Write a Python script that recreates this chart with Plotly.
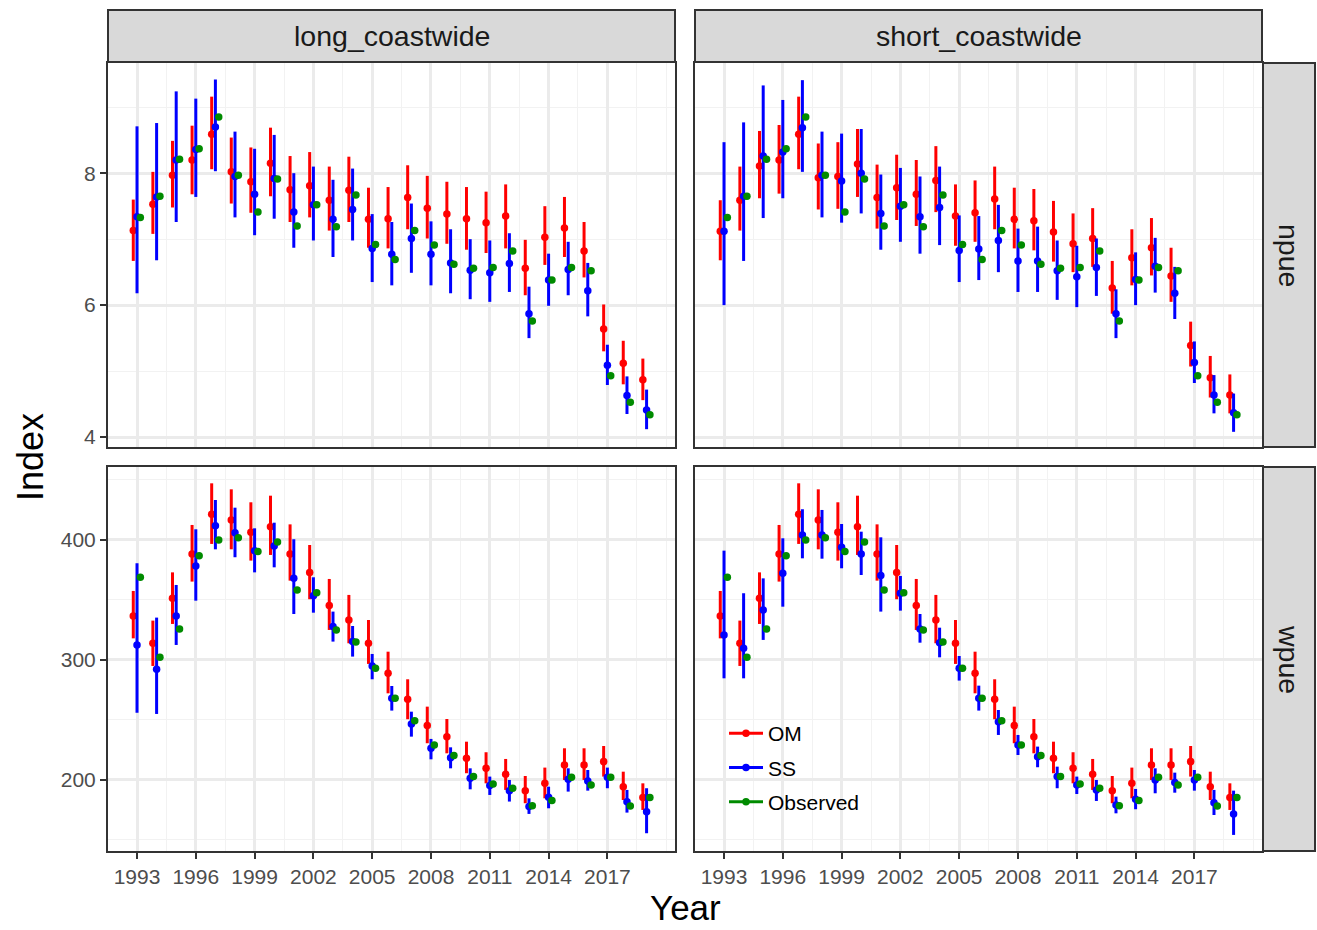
import plotly.graph_objects as go

W, H = 1317, 930

years = list(range(1993, 2020))
x_tick_vals = [1993, 1996, 1999, 2002, 2005, 2008, 2011, 2014, 2017]
x_tick_text = ["1993", "1996", "1999", "2002", "2005", "2008", "2011", "2014", "2017"]
x_minor_vals = [1991.5, 1994.5, 1997.5, 2000.5, 2003.5, 2006.5, 2009.5, 2012.5, 2015.5, 2018.5, 2020]
npue_tick_vals = [4, 6, 8]
npue_minor_vals = [5, 7, 9]
wpue_tick_vals = [200, 300, 400]
wpue_minor_vals = [150, 250, 350, 450]

col_labels = ["long_coastwide", "short_coastwide"]
row_labels = ["npue", "wpue"]
series_names = ["OM", "SS", "Observed"]

# ---- npue ----
obs_npue = [7.33, 7.65, 8.21, 8.37, 8.85, 7.97, 7.41, 7.91, 7.20, 7.52, 7.19, 7.67, 6.92, 6.69,
            7.13, 6.91, 6.62, 6.56, 6.57, 6.82, 5.76, 6.38, 6.57, 6.52, 4.93, 4.53, 4.34]

om_long_npue = [7.13, 7.53, 7.97, 8.20, 8.59, 8.02, 7.87, 8.15, 7.75, 7.81, 7.59, 7.74, 7.30, 7.31,
                7.63, 7.47, 7.38, 7.31, 7.25, 7.35, 6.56, 7.03, 7.17, 6.82, 5.64, 5.12, 4.87]
om_long_npue_lo = [6.67, 7.08, 7.48, 7.68, 8.06, 7.54, 7.40, 7.65, 7.26, 7.33, 7.13, 7.26, 6.87, 6.86,
                   7.15, 7.01, 6.93, 6.84, 6.79, 6.86, 6.15, 6.61, 6.73, 6.42, 5.30, 4.80, 4.56]
om_long_npue_hi = [7.60, 8.02, 8.49, 8.72, 9.16, 8.54, 8.39, 8.69, 8.26, 8.32, 8.10, 8.25, 7.78, 7.79,
                   8.12, 7.96, 7.87, 7.79, 7.72, 7.83, 6.99, 7.50, 7.64, 7.26, 6.01, 5.46, 5.19]

ss_long_npue = [7.34, 7.64, 8.20, 8.36, 8.70, 7.95, 7.68, 7.92, 7.41, 7.52, 7.30, 7.45, 6.86, 6.77,
                7.01, 6.77, 6.64, 6.53, 6.49, 6.63, 5.87, 6.38, 6.54, 6.22, 5.09, 4.63, 4.41]
ss_long_npue_lo = [6.18, 6.68, 7.26, 7.64, 8.03, 7.33, 7.06, 7.31, 6.87, 6.98, 6.73, 6.98, 6.35, 6.30,
                   6.49, 6.30, 6.18, 6.09, 6.05, 6.20, 5.50, 5.99, 6.15, 5.83, 4.79, 4.35, 4.12]
ss_long_npue_hi = [8.71, 8.76, 9.24, 9.13, 9.42, 8.63, 8.37, 8.58, 8.00, 8.10, 7.90, 8.07, 7.38, 7.26,
                   7.54, 7.27, 7.15, 7.00, 6.98, 7.09, 6.28, 6.78, 6.96, 6.64, 5.40, 4.92, 4.72]

om_short_npue = [7.12, 7.59, 8.11, 8.20, 8.59, 7.93, 7.95, 8.14, 7.63, 7.78, 7.68, 7.89, 7.35, 7.40,
                 7.61, 7.30, 7.28, 7.11, 6.93, 7.01, 6.26, 6.72, 6.87, 6.44, 5.39, 4.90, 4.64]
om_short_npue_lo = [6.68, 7.13, 7.62, 7.69, 8.06, 7.45, 7.46, 7.64, 7.16, 7.29, 7.20, 7.41, 6.90, 6.96,
                    7.15, 6.86, 6.83, 6.66, 6.50, 6.58, 5.87, 6.30, 6.45, 6.05, 5.07, 4.60, 4.36]
om_short_npue_hi = [7.59, 8.10, 8.64, 8.73, 9.16, 8.45, 8.47, 8.67, 8.13, 8.28, 8.20, 8.41, 7.83, 7.89,
                    8.10, 7.78, 7.76, 7.58, 7.39, 7.47, 6.67, 7.15, 7.32, 6.87, 5.75, 5.23, 4.95]

ss_short_npue = [7.12, 7.65, 8.26, 8.32, 8.69, 7.97, 7.88, 8.00, 7.39, 7.50, 7.34, 7.48, 6.83, 6.85,
                 6.98, 6.67, 6.67, 6.52, 6.43, 6.57, 5.87, 6.39, 6.59, 6.18, 5.13, 4.64, 4.37]
ss_short_npue_lo = [6.00, 6.67, 7.32, 7.62, 8.02, 7.33, 7.25, 7.39, 6.84, 6.96, 6.78, 6.91, 6.35, 6.38,
                    6.50, 6.20, 6.20, 6.08, 5.97, 6.14, 5.50, 6.00, 6.19, 5.79, 4.82, 4.36, 4.08]
ss_short_npue_hi = [8.47, 8.77, 9.33, 9.11, 9.41, 8.63, 8.60, 8.67, 7.98, 8.08, 7.95, 8.10, 7.36, 7.35,
                    7.52, 7.16, 7.19, 6.98, 6.90, 7.01, 6.24, 6.80, 7.02, 6.58, 5.45, 4.94, 4.66]

# ---- wpue ----
obs_wpue = [368.9, 302.2, 325.8, 386.9, 400.0, 401.9, 390.3, 398.3, 358.3, 356.1, 325.0, 315.0, 293.0, 268.0,
            249.4, 229.2, 220.3, 202.8, 196.7, 193.1, 178.6, 182.8, 202.2, 195.8, 202.2, 178.3, 185.3]

om_wpue = [336.7, 313.9, 351.4, 388.3, 421.4, 416.7, 406.4, 411.1, 388.3, 372.8, 345.3, 333.3, 313.9, 288.9,
           267.2, 245.3, 236.1, 218.1, 209.7, 204.7, 191.1, 197.2, 212.5, 212.5, 215.3, 194.4, 185.3]
om_wpue_lo = [318.0, 295.0, 330.0, 365.3, 396.7, 392.2, 382.8, 387.5, 366.1, 350.6, 325.0, 313.9, 296.7, 272.2,
              250.6, 230.6, 222.2, 205.6, 197.2, 191.7, 180.6, 184.7, 200.0, 200.0, 202.8, 183.3, 175.0]
om_wpue_hi = [357.5, 332.8, 373.0, 412.5, 447.2, 442.2, 431.4, 436.9, 413.0, 395.8, 367.5, 354.2, 333.3, 306.9,
              283.9, 261.1, 250.8, 231.9, 223.1, 217.5, 203.3, 210.3, 226.4, 226.4, 228.3, 206.9, 197.2]

ss_long_wpue = [312.5, 292.2, 336.7, 378.3, 411.9, 406.1, 391.1, 395.0, 368.0, 353.6, 327.8, 315.3, 295.0, 268.0,
                246.7, 226.4, 218.6, 201.4, 195.3, 191.1, 177.8, 185.6, 200.6, 199.2, 202.2, 181.9, 173.6]
ss_long_wpue_lo = [256.0, 255.0, 312.5, 349.4, 392.2, 385.6, 373.0, 377.2, 338.3, 339.4, 315.3, 302.8, 283.9, 257.8,
                   236.1, 217.2, 209.7, 192.2, 187.5, 182.0, 171.7, 176.4, 190.3, 191.1, 193.1, 172.8, 155.6]
ss_long_wpue_hi = [380.6, 335.3, 362.5, 408.9, 433.3, 426.9, 409.7, 414.4, 400.6, 368.9, 340.3, 328.3, 305.0, 278.3,
                   256.9, 234.2, 227.2, 209.7, 202.8, 200.0, 184.7, 194.4, 209.7, 208.3, 210.3, 191.7, 193.1]

ss_short_wpue = [320.8, 309.7, 341.7, 372.2, 404.2, 404.2, 393.9, 388.3, 370.3, 355.6, 325.8, 314.4, 293.1, 268.0,
                 248.6, 229.2, 219.4, 202.8, 195.8, 191.7, 179.2, 184.0, 200.0, 197.8, 200.0, 181.1, 171.7]
ss_short_wpue_lo = [284.7, 284.7, 316.7, 344.4, 384.7, 384.4, 376.4, 370.8, 340.3, 341.1, 314.4, 302.2, 282.8, 257.8,
                    237.5, 220.8, 210.6, 193.1, 188.3, 182.5, 172.2, 175.6, 188.9, 189.4, 191.1, 170.8, 154.2]
ss_short_wpue_hi = [391.1, 355.6, 368.0, 401.4, 425.6, 425.0, 413.3, 406.9, 402.2, 370.0, 338.3, 326.9, 303.3, 278.6,
                    258.3, 237.5, 227.8, 211.1, 202.8, 200.0, 186.1, 192.5, 209.7, 206.1, 208.3, 191.7, 191.1]

colors = {"OM": "#FF0000", "SS": "#0000FF", "Observed": "#008B00"}
dodge = {"OM": -0.19, "SS": 0.0, "Observed": 0.17}

panels = {
    (0, 0): {"OM": (om_long_npue, om_long_npue_lo, om_long_npue_hi),
             "SS": (ss_long_npue, ss_long_npue_lo, ss_long_npue_hi),
             "Observed": (obs_npue, None, None)},
    (0, 1): {"OM": (om_short_npue, om_short_npue_lo, om_short_npue_hi),
             "SS": (ss_short_npue, ss_short_npue_lo, ss_short_npue_hi),
             "Observed": (obs_npue, None, None)},
    (1, 0): {"OM": (om_wpue, om_wpue_lo, om_wpue_hi),
             "SS": (ss_long_wpue, ss_long_wpue_lo, ss_long_wpue_hi),
             "Observed": (obs_wpue, None, None)},
    (1, 1): {"OM": (om_wpue, om_wpue_lo, om_wpue_hi),
             "SS": (ss_short_wpue, ss_short_wpue_lo, ss_short_wpue_hi),
             "Observed": (obs_wpue, None, None)},
}

# layout geometry (pixels)
col_px = [(108, 675), (695, 1262)]
row_px = [(63, 447), (467, 851)]
strip_top = (10, 62)
strip_right = (1263, 1315)
legend_box = (708, 713, 893, 833)

def fx(px):
    return px / W

def fy(py):
    return 1 - py / H

FONT = "Arial, Liberation Sans, Helvetica, sans-serif"
fig = go.Figure()

axis_idx = {}
k = 1
for r in range(2):
    for c in range(2):
        axis_idx[(r, c)] = k
        k += 1

for (r, c), series in panels.items():
    i = axis_idx[(r, c)]
    xa = "x" if i == 1 else f"x{i}"
    ya = "y" if i == 1 else f"y{i}"
    for name in series_names:
        vals, lo, hi = series[name]
        xs = [yr + dodge[name] for yr in years]
        err = None
        if lo is not None:
            err = dict(type="data", symmetric=False,
                       array=[h - v for h, v in zip(hi, vals)],
                       arrayminus=[v - l for v, l in zip(vals, lo)],
                       color=colors[name], thickness=3, width=0)
        fig.add_trace(go.Scatter(x=xs, y=vals, mode="markers",
                                 marker=dict(color=colors[name], size=7.5),
                                 error_y=err, xaxis=xa, yaxis=ya,
                                 showlegend=False, name=name))

# legend-only traces
for name in series_names:
    fig.add_trace(go.Scatter(x=[None], y=[None], mode="lines+markers", name=name,
                             legendgroup=name,
                             line=dict(color=colors[name], width=3),
                             marker=dict(color=colors[name], size=7.5),
                             xaxis="x4", yaxis="y4", showlegend=True))

layout = {}
grid_major = "#EBEBEB"
grid_minor = "#F2F2F2"
for (r, c), i in axis_idx.items():
    xk = "xaxis" if i == 1 else f"xaxis{i}"
    yk = "yaxis" if i == 1 else f"yaxis{i}"
    ya = "y" if i == 1 else f"y{i}"
    xa = "x" if i == 1 else f"x{i}"
    x0, x1 = col_px[c]
    y0, y1 = row_px[r]
    layout[xk] = dict(domain=[fx(x0), fx(x1)], anchor=ya, range=[1991.52, 2020.45],
                      tickmode="array", tickvals=x_tick_vals, ticktext=x_tick_text,
                      showticklabels=(r == 1), ticks="outside" if r == 1 else "",
                      ticklen=6, tickwidth=2, tickcolor="#333333",
                      tickfont=dict(size=21, color="#4D4D4D", family=FONT),
                      showgrid=True, gridcolor=grid_major, gridwidth=2.5,
                      minor=dict(tickmode="array", tickvals=x_minor_vals, showgrid=True,
                                 gridcolor=grid_minor, gridwidth=1.4, ticks=""),
                      showline=True, linecolor="#333333", linewidth=2, mirror=True,
                      zeroline=False)
    if r == 0:
        yr = [3.85, 9.67]
        tv, mv = npue_tick_vals, npue_minor_vals
    else:
        yr = [140.8, 460.8]
        tv, mv = wpue_tick_vals, wpue_minor_vals
    layout[yk] = dict(domain=[fy(y1), fy(y0)], anchor=xa, range=yr,
                      tickmode="array", tickvals=tv, ticktext=[str(v) for v in tv],
                      showticklabels=(c == 0), ticks="outside" if c == 0 else "",
                      ticklen=6, tickwidth=2, tickcolor="#333333",
                      tickfont=dict(size=21, color="#4D4D4D", family=FONT),
                      showgrid=True, gridcolor=grid_major, gridwidth=2.5,
                      minor=dict(tickmode="array", tickvals=mv, showgrid=True,
                                 gridcolor=grid_minor, gridwidth=1.4, ticks=""),
                      showline=True, linecolor="#333333", linewidth=2, mirror=True,
                      zeroline=False)

shapes = []
annotations = []
for c in range(2):
    x0, x1 = col_px[c]
    shapes.append(dict(type="rect", xref="paper", yref="paper",
                       x0=fx(x0), x1=fx(x1), y0=fy(strip_top[1]), y1=fy(strip_top[0]),
                       fillcolor="#D9D9D9", line=dict(color="#333333", width=2)))
    annotations.append(dict(text=col_labels[c], xref="paper", yref="paper",
                            x=fx((x0 + x1) / 2), y=fy((strip_top[0] + strip_top[1]) / 2),
                            showarrow=False, font=dict(size=28.5, color="#1A1A1A", family=FONT),
                            xanchor="center", yanchor="middle"))
for r in range(2):
    y0, y1 = row_px[r]
    shapes.append(dict(type="rect", xref="paper", yref="paper",
                       x0=fx(strip_right[0]), x1=fx(strip_right[1]), y0=fy(y1), y1=fy(y0),
                       fillcolor="#D9D9D9", line=dict(color="#333333", width=2)))
    annotations.append(dict(text=row_labels[r], xref="paper", yref="paper",
                            x=fx((strip_right[0] + strip_right[1]) / 2), y=fy((y0 + y1) / 2),
                            showarrow=False, textangle=90,
                            font=dict(size=28.5, color="#1A1A1A", family=FONT),
                            xanchor="center", yanchor="middle"))

# white legend background box (above grid, below data)
shapes.append(dict(type="rect", xref="paper", yref="paper", layer="between",
                   x0=fx(legend_box[0]), x1=fx(legend_box[2]),
                   y0=fy(legend_box[3]), y1=fy(legend_box[1]),
                   fillcolor="white", line=dict(width=0)))

annotations.append(dict(text="Index", xref="paper", yref="paper", x=fx(30), y=fy(457),
                        showarrow=False, textangle=-90,
                        font=dict(size=36, color="#000000", family=FONT),
                        xanchor="center", yanchor="middle"))
annotations.append(dict(text="Year", xref="paper", yref="paper", x=fx(685), y=fy(907),
                        showarrow=False, font=dict(size=35, color="#000000", family=FONT),
                        xanchor="center", yanchor="middle"))

fig.update_layout(**layout)
fig.update_layout(width=W, height=H, margin=dict(l=0, r=0, t=0, b=0),
                  paper_bgcolor="white", plot_bgcolor="white",
                  shapes=shapes, annotations=annotations,
                  showlegend=True,
                  legend=dict(x=fx(724), y=fy(713), xanchor="left", yanchor="top",
                              bgcolor="rgba(255,255,255,0)", borderwidth=0,
                              font=dict(size=21, color="#000000", family=FONT),
                              itemwidth=34, tracegroupgap=4))

fig.write_html("out.html")
